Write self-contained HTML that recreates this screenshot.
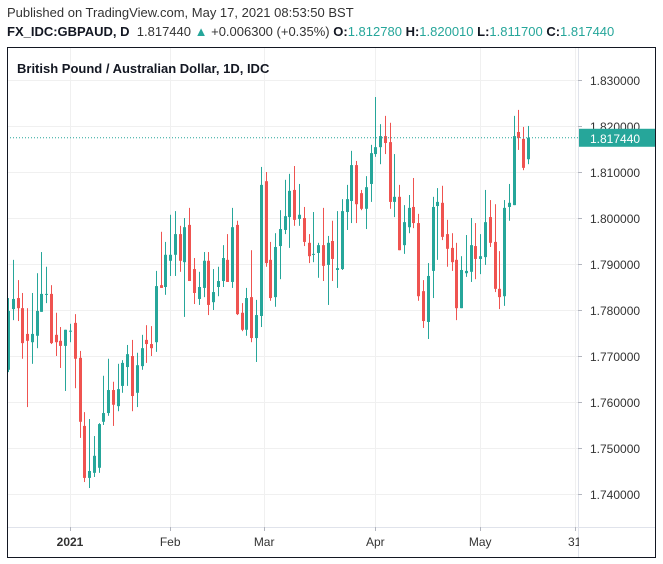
<!DOCTYPE html>
<html><head><meta charset="utf-8"><style>
html,body{margin:0;padding:0;background:#fff;}
body{width:663px;height:564px;overflow:hidden;position:relative;font-family:"Liberation Sans",sans-serif;}
.hdr{position:absolute;left:7px;font-size:13px;color:#333;white-space:nowrap;}
.g{color:#26a69a}
b{color:#131722}
</style></head><body>
<div class="hdr" style="top:5px">Published on TradingView.com, May 17, 2021 08:53:50 BST</div>
<div class="hdr" style="top:24px"><b>FX_IDC:GBPAUD, D</b>&nbsp; 1.817440 <span class="g">▲</span> +0.006300 (+0.35%) <b>O:</b><span class="g">1.812780</span> <b>H:</b><span class="g">1.820010</span> <b>L:</b><span class="g">1.811700</span> <b>C:</b><span class="g">1.817440</span></div>
<svg id="chart" width="663" height="564" style="position:absolute;left:0;top:0"></svg>
<script>
const openP=[1.7670,1.7802,1.7826,1.7804,1.7748,1.7730,1.7744,1.7796,1.7833,1.7835,1.7746,1.7733,1.7722,1.7754,1.7772,1.7696,1.7548,1.7435,1.7446,1.7457,1.7557,1.7576,1.7626,1.7591,1.7635,1.7676,1.7700,1.7620,1.7678,1.7735,1.7726,1.7730,1.7854,1.7850,1.7907,1.7920,1.7965,1.7904,1.7985,1.7889,1.7824,1.7848,1.7907,1.7817,1.7850,1.7863,1.7909,1.7861,1.7985,1.7794,1.7757,1.7828,1.7739,1.7787,1.8080,1.7909,1.7828,1.7939,1.7974,1.8002,1.8061,1.7998,1.8000,1.7946,1.7920,1.7924,1.7941,1.7898,1.7950,1.7887,1.7889,1.8013,1.8037,1.8115,1.8054,1.8020,1.8074,1.8139,1.8154,1.8178,1.8165,1.8035,1.8046,1.7941,1.7980,1.8024,1.7989,1.7841,1.7774,1.7885,1.8026,1.8033,1.7965,1.7935,1.7909,1.7804,1.7880,1.7883,1.7939,1.7911,1.7915,1.8002,1.7948,1.7846,1.7830,1.8024,1.8028,1.8187,1.8172,1.81278];
const highP=[1.7826,1.7909,1.7865,1.7837,1.7804,1.7837,1.7880,1.7926,1.7894,1.7854,1.7794,1.7763,1.7757,1.7770,1.7791,1.7711,1.7578,1.7563,1.7526,1.7554,1.7657,1.7694,1.7644,1.7683,1.7691,1.7724,1.7735,1.7707,1.7746,1.7767,1.7765,1.7885,1.7970,1.7948,1.8007,1.8015,1.7983,1.8000,1.8022,1.7913,1.7883,1.7926,1.7926,1.7889,1.7894,1.7941,1.7965,1.8022,1.7994,1.7815,1.7848,1.7930,1.7822,1.8111,1.8100,1.7948,1.7967,1.8017,1.8083,1.8096,1.8113,1.8074,1.8024,1.7965,1.8013,1.7946,1.8022,1.7961,1.7994,1.8015,1.8041,1.8072,1.8146,1.8124,1.8061,1.8091,1.8159,1.8263,1.8204,1.8222,1.8207,1.8139,1.8072,1.8028,1.8050,1.8087,1.8009,1.7865,1.7902,1.8046,1.8065,1.8070,1.7996,1.7967,1.7946,1.7917,1.7963,1.8000,1.7989,1.7965,1.8061,1.8039,1.8030,1.7928,1.8039,1.8074,1.8222,1.8235,1.8198,1.82001];
const lowP=[1.7665,1.7778,1.7776,1.7694,1.7589,1.7683,1.7717,1.7796,1.7815,1.7726,1.7700,1.7674,1.7624,1.7730,1.7630,1.7522,1.7426,1.7413,1.7437,1.7446,1.7550,1.7570,1.7548,1.7580,1.7620,1.7635,1.7580,1.7589,1.7670,1.7685,1.7700,1.7709,1.7848,1.7833,1.7874,1.7874,1.7883,1.7785,1.7863,1.7813,1.7811,1.7828,1.7789,1.7800,1.7830,1.7850,1.7861,1.7848,1.7789,1.7754,1.7744,1.7730,1.7687,1.7763,1.7894,1.7820,1.7807,1.7867,1.7965,1.7935,1.7983,1.7983,1.7939,1.7902,1.7904,1.7870,1.7863,1.7811,1.7863,1.7848,1.7887,1.7974,1.7989,1.7989,1.8017,1.7976,1.8035,1.8133,1.8117,1.8139,1.8020,1.8002,1.7930,1.7922,1.7967,1.7978,1.7820,1.7761,1.7737,1.7826,1.7909,1.7952,1.7894,1.7885,1.7778,1.7804,1.7872,1.7861,1.7867,1.7878,1.7898,1.7937,1.7839,1.7802,1.7809,1.7994,1.8028,1.8148,1.8104,1.81170];
const closeP=[1.7798,1.7824,1.7804,1.7728,1.7733,1.7748,1.7798,1.7835,1.7835,1.7728,1.7730,1.7722,1.7757,1.7755,1.7694,1.7557,1.7435,1.7450,1.7483,1.7552,1.7576,1.7626,1.7594,1.7628,1.7685,1.7704,1.7613,1.7680,1.7717,1.7726,1.7717,1.7852,1.7848,1.7920,1.7920,1.7965,1.7907,1.7980,1.7863,1.7837,1.7850,1.7907,1.7811,1.7839,1.7863,1.7913,1.7861,1.7980,1.7791,1.7757,1.7826,1.7739,1.7789,1.8072,1.7902,1.7826,1.7937,1.7976,1.8004,1.8059,1.7996,1.8007,1.7948,1.7917,1.7922,1.7941,1.7896,1.7946,1.7911,1.7891,1.8015,1.8041,1.8115,1.8030,1.8020,1.8067,1.8141,1.8154,1.8178,1.8163,1.8035,1.8046,1.7930,1.7991,1.8022,1.7989,1.7830,1.7776,1.7874,1.8024,1.8035,1.7959,1.7933,1.7904,1.7804,1.7887,1.7885,1.7941,1.7911,1.7917,1.7991,1.7946,1.7846,1.7828,1.8022,1.8033,1.8178,1.8174,1.8109,1.81744];
const priceTicks=[1.83,1.82,1.81,1.80,1.79,1.78,1.77,1.76,1.75,1.74];
const timeLabels=["2021","Feb","Mar","Apr","May","31"];
const timeIdx=[13,34,53.7,77,99,118.8];
const lastPrice=1.81744;

const NS="http://www.w3.org/2000/svg";
const svg=document.getElementById('chart');
const L=7,R=578,T=48,B=527;
const xOf=i=>8+i*4.77;
const yOf=p=>80+(1.83-p)*4600;
function mk(tag,attrs,parent){const e=document.createElementNS(NS,tag);for(const k in attrs)e.setAttribute(k,attrs[k]);(parent||svg).appendChild(e);return e;}
const clip=mk('clipPath',{id:'pc'});mk('rect',{x:L+1,y:T,width:R-L-1,height:B-T},clip);
// grid
priceTicks.forEach(p=>{const g=mk('line',{x1:L,x2:R,y1:yOf(p)+.5,y2:yOf(p)+.5,stroke:'#f0f0f0'});

});
timeIdx.forEach(i=>{const x=Math.round(xOf(i))+.5;if(x<R){const g=mk('line',{x1:x,x2:x,y1:T,y2:B,stroke:'#f0f0f0'});

}});
// candles
const cg=mk('g',{'clip-path':'url(#pc)'});


for(let i=0;i<openP.length;i++){
 const up=closeP[i]>=openP[i];const col=up?'#26a69a':'#ef5350';
 const x=Math.round(xOf(i));
 const g=mk('g',{},cg);
 
 
 mk('rect',{x:x,y:yOf(highP[i]),width:1,height:Math.max(1,yOf(lowP[i])-yOf(highP[i])),fill:col},g);
 const t=yOf(Math.max(openP[i],closeP[i])),b=yOf(Math.min(openP[i],closeP[i]));
 mk('rect',{x:x-1,y:t,width:3,height:Math.max(1,b-t),fill:col},g);
}
// last price line
const lp=mk('line',{x1:L,x2:R,y1:yOf(lastPrice),y2:yOf(lastPrice),stroke:'#26a69a','stroke-dasharray':'1,2'});


// axes separators
mk('line',{x1:R+.5,x2:R+.5,y1:T,y2:557,stroke:'#e0e3eb'});
mk('line',{x1:L,x2:655,y1:B+.5,y2:B+.5,stroke:'#e0e3eb'});
// price labels
priceTicks.forEach(p=>{const y=yOf(p);mk('line',{x1:R,x2:R+4,y1:y+.5,y2:y+.5,stroke:'#b2b5be'});
const t=mk('text',{x:590,y:y+5,'font-size':'12','fill':'#333','font-family':'Liberation Sans, sans-serif'});t.textContent=p.toFixed(6);

});
// last price box
const bx=mk('rect',{x:R+1,y:yOf(lastPrice)-9,width:76,height:18,fill:'#26a69a'});


const bt=mk('text',{x:590,y:yOf(lastPrice)+5,'font-size':'12',fill:'#fff','font-family':'Liberation Sans, sans-serif'});bt.textContent=lastPrice.toFixed(6);


// time labels
timeLabels.forEach((s,k)=>{const x=xOf(timeIdx[k]);mk('line',{x1:Math.round(x)+.5,x2:Math.round(x)+.5,y1:B,y2:B+4,stroke:'#b2b5be'});
const t=mk('text',{x:x,y:546,'text-anchor':'middle','font-size':'12',fill:'#333','font-weight':k==0?'bold':'normal','font-family':'Liberation Sans, sans-serif'});t.textContent=s;

});
// cover right of 31
mk('rect',{x:R+1,y:B+1,width:76,height:29,fill:'#fff'});
// frame
mk('rect',{x:L+.5,y:47.5,width:648,height:510,fill:'none',stroke:'#131722'});
const tt=mk('text',{x:17,y:73,'font-size':'13','font-weight':'bold',fill:'#131722','font-family':'Liberation Sans, sans-serif'});tt.textContent='British Pound / Australian Dollar, 1D, IDC';


</script>
</body></html>
